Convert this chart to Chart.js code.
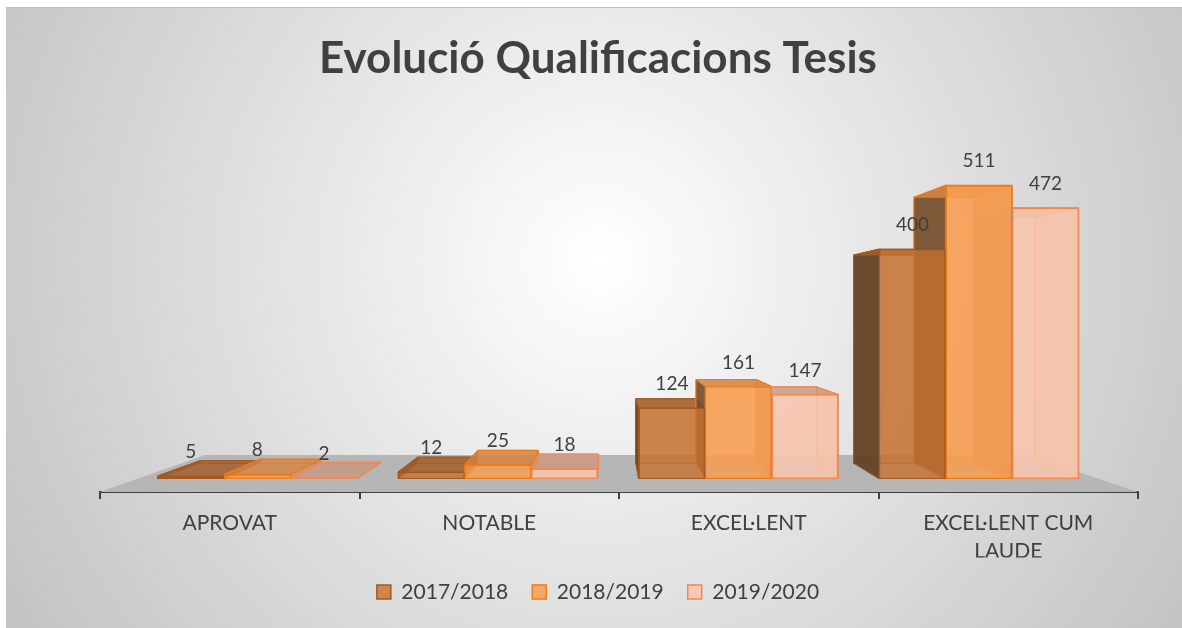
<!DOCTYPE html>
<html>
<head>
<meta charset="utf-8">
<title>Evolució Qualificacions Tesis</title>
<script src="https://cdn.jsdelivr.net/npm/chart.js@4.4.1/dist/chart.umd.min.js"></script>
<style>
  html, body { margin: 0; padding: 0; background: #fff; }
  canvas { display: block; }
</style>
</head>
<body>
<canvas id="qualChart" width="1182" height="628"></canvas>
<script>
// data
const categories = ['APROVAT', 'NOTABLE', 'EXCEL·LENT', ['EXCEL·LENT CUM', 'LAUDE']];
const seriesNames = ['2017/2018', '2018/2019', '2019/2020'];
const values1718 = [5, 12, 124, 400];
const values1819 = [8, 25, 161, 511];
const values1920 = [2, 18, 147, 472];
const valueRange = [0, 600];

// colours for each series: front, border, left side, right side, top, back
const looks = [
    { front: 'rgba(198,114,50,0.8)', border: '#a25a22', left: 'rgba(96,64,36,0.92)', right: 'rgba(150,85,35,0.6)', top: 'rgba(165,95,42,0.85)', back: 'rgba(196,112,48,0.3)' },
    { front: 'rgba(247,158,80,0.85)', border: '#ee7a18', left: 'rgba(112,74,40,0.88)', right: 'rgba(215,125,55,0.6)', top: 'rgba(212,134,70,0.85)', back: 'rgba(247,158,80,0.3)' },
    { front: 'rgba(248,198,174,0.85)', border: '#f4874f', left: 'rgba(190,130,100,0.6)', right: 'rgba(225,160,130,0.5)', top: 'rgba(200,152,128,0.8)', back: 'rgba(248,198,174,0.3)' }
];

// fake perspective: everything shrinks toward a vanishing point
const FRONT = 0.927;
const BACK = 0.84;
const FLOOR_BACK = 0.793;

function vanish(chart) {
    const a = chart.chartArea;
    return { x: a.left + a.width * 0.489, y: a.bottom - 179 };
}

function proj(v, x, y, s) {
    return [v.x + s * (x - v.x), v.y + s * (y - v.y)];
}

function quad(ctx, pts, fill, stroke) {
    ctx.beginPath();
    ctx.moveTo(pts[0][0], pts[0][1]);
    for (let k = 1; k < pts.length; k++) ctx.lineTo(pts[k][0], pts[k][1]);
    ctx.closePath();
    ctx.fillStyle = fill;
    ctx.fill();
    if (stroke) {
        ctx.strokeStyle = stroke;
        ctx.lineWidth = 1;
        ctx.stroke();
    }
}

const depthPlugin = {
    id: 'depth',
    beforeDraw(chart) {
        const ctx = chart.ctx;
        ctx.save();
        ctx.fillStyle = '#ffffff';
        ctx.fillRect(0, 0, chart.width, chart.height);
        const g = ctx.createRadialGradient(600, 260, 0, 600, 260, 700);
        g.addColorStop(0, '#ffffff');
        g.addColorStop(1, '#c2c2c2');
        ctx.fillStyle = g;
        ctx.fillRect(6, 7, chart.width - 6, chart.height - 7);
        ctx.fillStyle = '#bdbdbd';
        ctx.fillRect(6, 7, chart.width - 6, 1);
        ctx.restore();
    },
    beforeDatasetsDraw(chart) {
        const ctx = chart.ctx;
        const a = chart.chartArea;
        const v = vanish(chart);

        // floor
        ctx.save();
        quad(ctx, [
            [a.left, a.bottom], [a.right, a.bottom],
            proj(v, a.right, a.bottom, FLOOR_BACK), proj(v, a.left, a.bottom, FLOOR_BACK)
        ], '#b6b6b6');

        // hidden faces of every bar, drawn before the fronts
        chart.data.datasets.forEach((ds, i) => {
            const lk = looks[i];
            chart.getDatasetMeta(i).data.forEach(bar => {
                const l = bar.x - bar.width / 2, r = bar.x + bar.width / 2;
                const t = bar.y, b = bar.base;
                const flt = proj(v, l, t, FRONT), frt = proj(v, r, t, FRONT);
                const frb = proj(v, r, b, FRONT), flb = proj(v, l, b, FRONT);
                const blt = proj(v, l, t, BACK), brt = proj(v, r, t, BACK);
                const brb = proj(v, r, b, BACK), blb = proj(v, l, b, BACK);
                quad(ctx, [blt, brt, brb, blb], lk.back, lk.border);
                quad(ctx, [flt, blt, blb, flb], lk.left, lk.border);
                quad(ctx, [frt, brt, brb, frb], lk.right, lk.border);
                quad(ctx, [flt, frt, brt, blt], lk.top, lk.border);
            });
        });
        ctx.restore();

        // front faces are the library's own bars, scaled toward the vanishing point
        ctx.save();
        ctx.translate(v.x, v.y);
        ctx.scale(FRONT, FRONT);
        ctx.translate(-v.x, -v.y);
    },
    afterDatasetsDraw(chart) {
        const ctx = chart.ctx;
        ctx.restore();
        const v = vanish(chart);
        ctx.save();
        ctx.font = '19px Lato';
        ctx.fillStyle = '#404040';
        ctx.textAlign = 'center';
        ctx.textBaseline = 'middle';
        chart.data.datasets.forEach((ds, i) => {
            chart.getDatasetMeta(i).data.forEach((bar, j) => {
                const p = proj(v, bar.x, bar.y, FRONT);
                ctx.fillText(String(ds.data[j]), p[0], p[1] - 24);
            });
        });
        ctx.restore();
    }
};

window.onload = function() {
    const ctx = document.getElementById('qualChart').getContext('2d');
    const seriesValues = [values1718, values1819, values1920];

    const qualChart = new Chart(ctx, {
        type: 'bar',
        data: {
            labels: categories,
            datasets: seriesNames.map((name, i) => ({
                label: name,
                data: seriesValues[i],
                backgroundColor: looks[i].front,
                borderColor: looks[i].border,
                borderWidth: 1.5,
                borderSkipped: false,
                categoryPercentage: 0.83,
                barPercentage: 1,
                clip: false
            }))
        },
        options: {
            responsive: false,
            animation: false,
            devicePixelRatio: 1,
            layout: {
                padding: { top: 7, left: 14, right: 0, bottom: 15.5 }
            },
            scales: {
                x: {
                    z: 1,
                    grid: {
                        display: true,
                        drawOnChartArea: false,
                        drawTicks: true,
                        tickLength: 7,
                        color: '#404040',
                        lineWidth: 2
                    },
                    border: { display: true, color: '#404040', width: 2 },
                    ticks: {
                        color: '#404040',
                        font: { family: 'Lato', size: 21, lineHeight: 1.333 },
                        padding: 10,
                        maxRotation: 0,
                        autoSkip: false
                    },
                    afterFit: function(scale) {
                        scale.height = 65.5;
                    }
                },
                y: {
                    min: valueRange[0],
                    max: valueRange[1],
                    grid: { display: false },
                    border: { display: false },
                    ticks: { display: false },
                    afterFit: function(scale) {
                        scale.width = 86;
                    }
                },
                yRight: {
                    type: 'linear',
                    position: 'right',
                    grid: { display: false },
                    border: { display: false },
                    ticks: { display: false },
                    afterFit: function(scale) {
                        scale.width = 44;
                    }
                }
            },
            plugins: {
                title: {
                    display: true,
                    text: 'Evolució Qualificacions Tesis',
                    color: '#404040',
                    font: { family: 'Lato', size: 44, weight: 'bold', lineHeight: 1.2 },
                    padding: { top: 25, bottom: 35.2 }
                },
                legend: {
                    position: 'bottom',
                    labels: {
                        color: '#404040',
                        font: { family: 'Lato', size: 21 },
                        boxWidth: 14,
                        boxHeight: 14,
                        padding: 24
                    }
                },
                tooltip: {
                    callbacks: {
                        label: function(context) {
                            return `${context.dataset.label}: ${context.raw}`;
                        }
                    }
                }
            }
        },
        plugins: [depthPlugin]
    });
};
</script>
</body>
</html>
